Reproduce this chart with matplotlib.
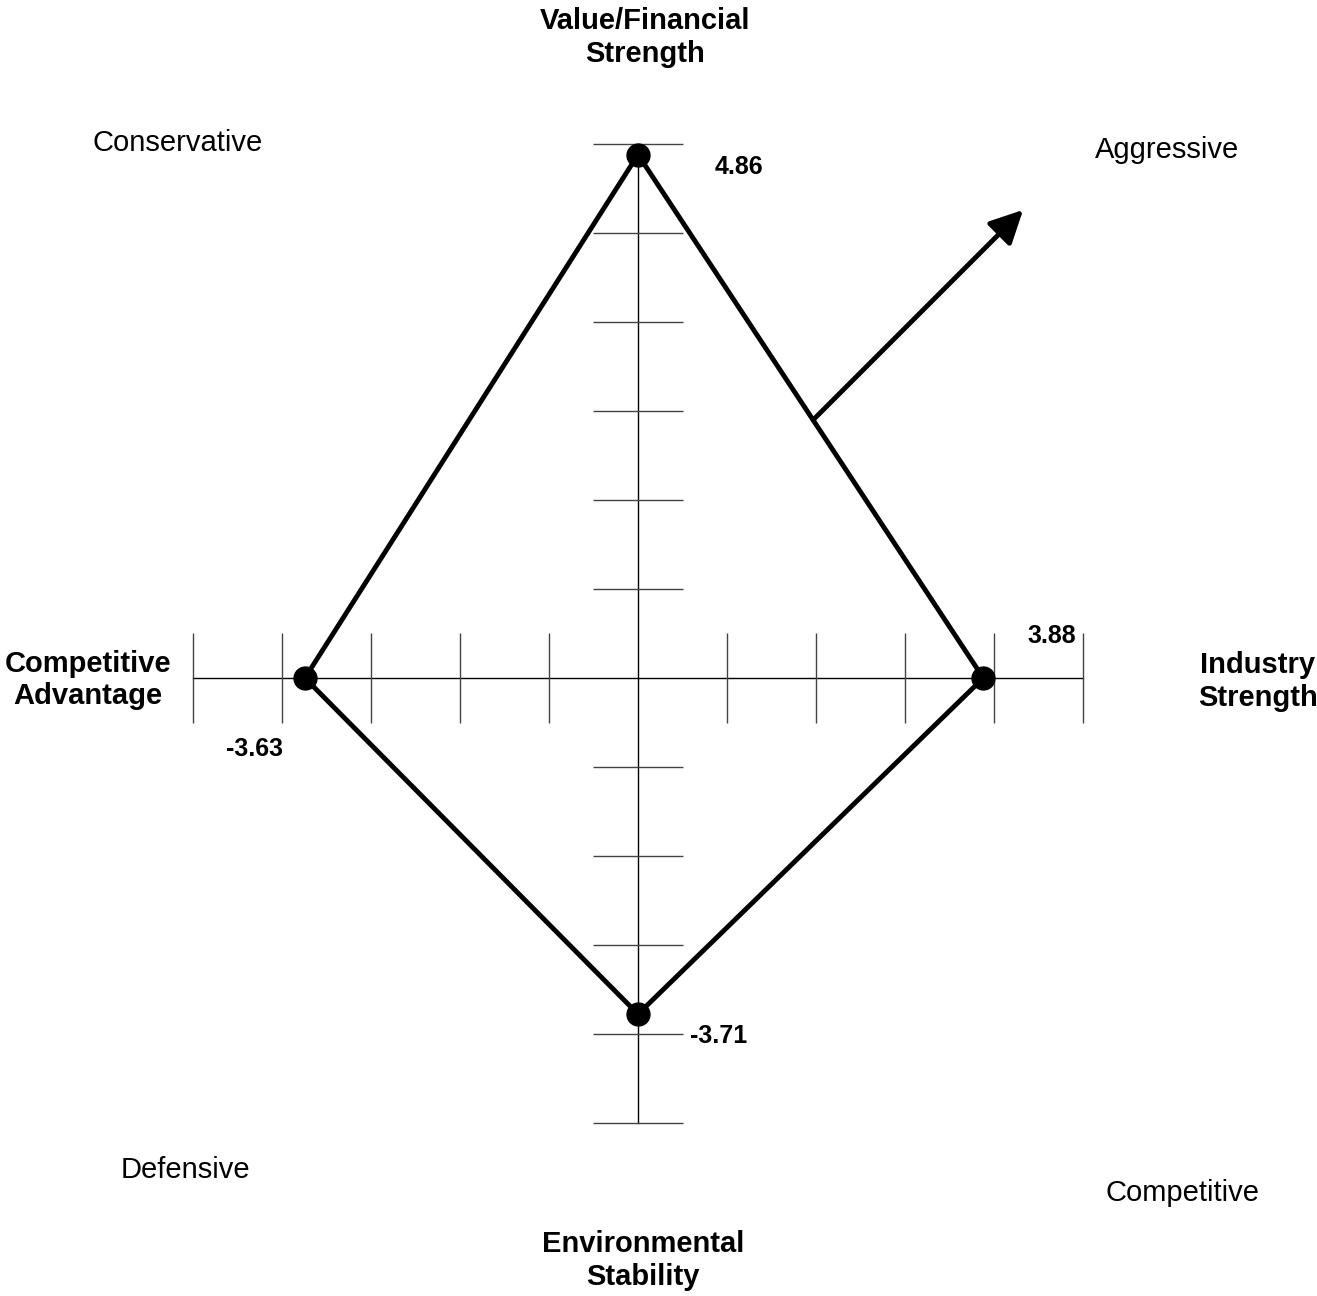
import numpy as np
import matplotlib
matplotlib.use('Agg')
import matplotlib.pyplot as plt

plt.rcParams['font.family'] = ['Liberation Sans', 'DejaVu Sans']

# SPACE matrix scores
axis_names = ['Value/Financial\nStrength', 'Industry\nStrength',
              'Environmental\nStability', 'Competitive\nAdvantage']
scores_x = [0.0, 3.88, 0.0, -3.63]
scores_y = [4.86, 0.0, -3.71, 0.0]
score_labels = ['4.86', '3.88', '-3.71', '-3.63']
quadrants = ['Conservative', 'Aggressive', 'Defensive', 'Competitive']

# tick marks, in drawing units (one unit = one tick step)
x_ticks = [-5, -4, -3, -2, -1, 1, 2, 3, 4, 5]
y_ticks = [-5, -4, -3, -2, -1, 1, 2, 3, 4, 5, 6]

# the original drawing is not evenly scaled per half-axis
KY_UP, KY_DN = 1.21, 1.018
KX_LT = 1.031

def piecewise(k_pos, k_neg):
    def fwd(v):
        v = np.asarray(v, dtype=float)
        return np.where(v > 0, v * k_pos, v * k_neg)
    def inv(t):
        t = np.asarray(t, dtype=float)
        return np.where(t > 0, t / k_pos, t / k_neg)
    return fwd, inv

fx, ix = piecewise(1.0, KX_LT)
fy, iy = piecewise(KY_UP, KY_DN)

fig = plt.figure(figsize=(13.17, 12.96), dpi=100)
ax = fig.add_axes([0, 0, 1, 1])
ax.set_xscale('function', functions=(fx, ix))
ax.set_yscale('function', functions=(fy, iy))
ax.set_xlim(ix(-638 / 89), ix((1317 - 638) / 89))
ax.set_ylim(iy(-(1296 - 678) / 89), iy(678 / 89))
ax.axis('off')

xt = ix(x_ticks)
yt = iy(y_ticks)

# axes with tick marks
ax.plot([xt[0], xt[-1]], [0, 0], color='black', lw=1)
ax.plot([0, 0], [yt[0], yt[-1]], color='black', lw=1)
ax.plot(xt, np.zeros(len(xt)), ls='none', marker='|',
        ms=65, mew=1, color='#444444')
ax.plot(np.zeros(len(yt)), yt, ls='none', marker='_',
        ms=65, mew=1, color='#444444')

# polygon
px = scores_x + [scores_x[0]]
py = scores_y + [scores_y[0]]
ax.plot(px, py, color='black', lw=3.5, solid_joinstyle='miter', zorder=3)
ax.plot(scores_x, scores_y, ls='none', marker='o', ms=16.5,
        color='black', zorder=4)

# score labels
offsets = [(73, -9), (49, 30), (58, -16), (-36, -51)]
for xv, yv, lab, off in zip(scores_x, scores_y, score_labels, offsets):
    ax.annotate(lab, (xv, yv), xytext=off, textcoords='offset points',
                ha='center', va='center', fontsize=18, fontweight='bold')

# direction arrow, starting on the upper-right edge
t = 0.507
sx = scores_x[0] + t * (scores_x[1] - scores_x[0])
sy = scores_y[0] + t * (scores_y[1] - scores_y[0])
L = 2.36
ax.annotate('', xy=(sx + L, sy + L / KY_UP), xytext=(sx, sy),
            arrowprops=dict(arrowstyle='-|>', lw=3.5, color='black',
                            mutation_scale=50, shrinkA=0, shrinkB=0))

# axis names
bold = dict(ha='center', va='center', fontsize=21, fontweight='bold')
fig.text(0.4897, 0.971, axis_names[0], **bold)
fig.text(0.955, 0.474, axis_names[1], **bold)
fig.text(0.488, 0.0275, axis_names[2], **bold)
fig.text(0.0668, 0.4755, axis_names[3], **bold)

# quadrant names
norm = dict(ha='center', va='center', fontsize=21)
fig.text(0.1352, 0.890, quadrants[0], **norm)
fig.text(0.886, 0.8845, quadrants[1], **norm)
fig.text(0.1405, 0.0975, quadrants[2], **norm)
fig.text(0.8975, 0.0798, quadrants[3], **norm)

fig.savefig('out.png', dpi=100)
